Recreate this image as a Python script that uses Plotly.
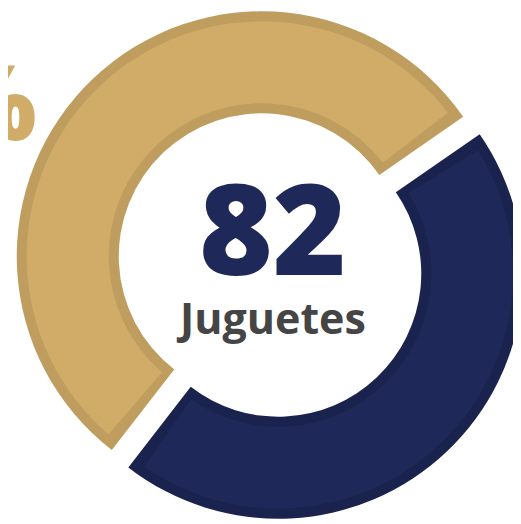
import plotly.graph_objects as go

# ---- data ----
labels = ["Navy", "Gold"]
values = [37, 45]          # navy, gold  (total 82)
total_label = "82"
unit_label = "Juguetes"
pct_label = "55%"

# ---- style ----
W, H = 530, 530
gold_fill, gold_edge = "#D0AC68", "#BF9D5E"
navy_fill, navy_edge = "#1E2859", "#1A234E"
ROT = 55.3            # degrees clockwise from 12 o'clock where first slice starts
CX, CY = 262, 257     # pie centre in figure px
R_OUT, R_IN = 245, 143
BAND = 10             # border band width in px
PULL_PX = 12

def dom(cx, cy, half):
    return dict(x=[max(0.0, (cx - half) / W), min(1.0, (cx + half) / W)],
                y=[max(0.0, (H - (cy + half)) / H), min(1.0, (H - (cy - half)) / H)])

tot = sum(values)
# back trace (edge colour)
pA = PULL_PX / R_OUT
back = go.Pie(values=values, labels=labels, sort=False, direction="clockwise",
              rotation=ROT, hole=R_IN / R_OUT, pull=[pA, pA],
              marker=dict(colors=[navy_edge, gold_edge], line=dict(width=0)),
              textinfo="none", hoverinfo="skip", showlegend=False,
              domain=dom(CX, CY, R_OUT + PULL_PX))

# front trace (fill colour), inset by BAND
R2o, R2i = R_OUT - BAND, R_IN + BAND
mid = (R2o + R2i) / 2
inset_deg = (BAND / mid) * 180 / 3.141592653589793
e = inset_deg / 360 * tot
pB = PULL_PX / R2o
front = go.Pie(values=[values[0] - 2 * e, 2 * e, values[1] - 2 * e, 2 * e],
               labels=["n", "g1", "g", "g2"], sort=False, direction="clockwise",
               rotation=ROT + inset_deg, hole=R2i / R2o, pull=[pB, 0, pB, 0],
               marker=dict(colors=[navy_fill, "rgba(0,0,0,0)", gold_fill, "rgba(0,0,0,0)"],
                           line=dict(width=0)),
               textinfo="none", hoverinfo="skip", showlegend=False,
               domain=dom(CX, CY, R2o + PULL_PX))

fig = go.Figure([back, front])
fig.update_layout(
    width=W, height=H, margin=dict(l=0, r=0, t=0, b=0),
    paper_bgcolor="white", plot_bgcolor="white",
    annotations=[
        dict(text=total_label, x=264.5 / W, y=(H - 218) / H, xref="paper", yref="paper",
             xanchor="center", yanchor="middle", showarrow=False,
             font=dict(family="Open Sans", size=126, color=navy_fill, weight=800)),
        dict(text=unit_label, x=262.5 / W, y=(H - 309) / H, xref="paper", yref="paper",
             xanchor="center", yanchor="middle", showarrow=False,
             font=dict(family="Open Sans", size=43, color="#454545", weight=700)),
        dict(text=pct_label, x=31 / W, y=(H - 92) / H, xref="paper", yref="paper",
             xanchor="right", yanchor="middle", showarrow=False,
             font=dict(family="Open Sans", size=104, color=gold_fill, weight=800)),
    ],
)
fig.write_html("out.html")
